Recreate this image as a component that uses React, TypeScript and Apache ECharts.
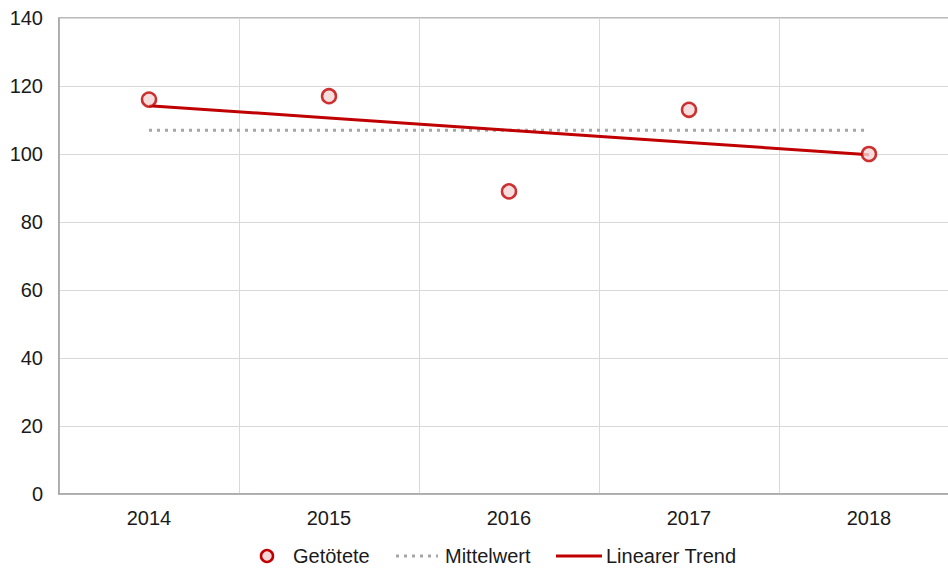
import React, { useEffect, useRef } from "react";
import * as echarts from "echarts";

const years = ["2014", "2015", "2016", "2017", "2018"];
const killed = [116, 117, 89, 113, 100];
const meanValues = [107, 107, 107, 107, 107];
const trendValues = [114.2, 110.6, 107, 103.4, 99.8];
const yTicks = { min: 0, max: 140, interval: 20 };
const legendNames = ["Getötete", "Mittelwert", "Linearer Trend"];

const FONT = "'Liberation Sans', Arial, sans-serif";
const RED = "#c00000";
const GRAY = "#a6a6a6";
const TEXT = "#1a1a1a";

export default function App() {
  const ref = useRef<HTMLDivElement>(null);
  useEffect(() => {
    if (!ref.current) return;
    const chart = echarts.init(ref.current, undefined, { renderer: "svg" });
    const ly = 556;
    const legendText = (x: number, t: string) => ({
      type: "text",
      x,
      y: ly,
      style: { text: t, fontSize: 20, fontFamily: FONT, fill: TEXT, textVerticalAlign: "middle", verticalAlign: "middle" },
    });
    chart.setOption({
      animation: false,
      textStyle: { fontFamily: FONT },
      grid: {
        left: 59,
        top: 18,
        right: 0,
        bottom: 76,
        show: true,
        borderColor: GRAY,
        borderWidth: 1.5,
      },
      legend: { show: false, data: legendNames },
      graphic: [
        {
          type: "circle",
          shape: { cx: 267, cy: ly, r: 6 },
          style: { fill: "#f4d6d6", stroke: RED, lineWidth: 2.5 },
        },
        legendText(293, legendNames[0]),
        {
          type: "line",
          shape: { x1: 396, y1: ly, x2: 438, y2: ly },
          style: { stroke: GRAY, lineWidth: 3, lineDash: [3, 5] },
        },
        legendText(445, legendNames[1]),
        {
          type: "line",
          shape: { x1: 556, y1: ly, x2: 602, y2: ly },
          style: { stroke: RED, lineWidth: 3 },
        },
        legendText(606, legendNames[2]),
      ],
      xAxis: {
        type: "category",
        data: years,
        boundaryGap: true,
        axisLine: { show: true, lineStyle: { color: GRAY, width: 1.5 } },
        axisTick: { show: false },
        axisLabel: { fontSize: 20, color: TEXT, margin: 14, fontFamily: FONT },
        splitLine: { show: true, interval: 0, lineStyle: { color: "#d9d9d9", width: 1 } },
      },
      yAxis: {
        type: "value",
        min: yTicks.min,
        max: yTicks.max,
        interval: yTicks.interval,
        axisLine: { show: true, lineStyle: { color: GRAY, width: 1.5 } },
        axisTick: { show: false },
        axisLabel: { fontSize: 20, color: TEXT, margin: 16, fontFamily: FONT },
        splitLine: { show: true, lineStyle: { color: "#d9d9d9", width: 1 } },
      },
      series: [
        {
          name: legendNames[1],
          type: "line",
          data: meanValues,
          symbol: "none",
          z: 2,
          lineStyle: { color: GRAY, width: 3, type: [3, 5] },
          itemStyle: { color: GRAY },
        },
        {
          name: legendNames[2],
          type: "line",
          data: trendValues,
          symbol: "none",
          z: 3,
          lineStyle: { color: RED, width: 3 },
          itemStyle: { color: RED },
        },
        {
          name: legendNames[0],
          type: "scatter",
          data: killed,
          symbol: "circle",
          symbolSize: 14,
          z: 5,
          itemStyle: { color: "#f4d6d6", borderColor: RED, borderWidth: 2.5 },
        },
      ],
    });
    return () => chart.dispose();
  }, []);
  return (
    <div style={{ position: "fixed", left: 0, top: 0, width: 948, height: 570, overflow: "hidden", background: "#fff" }}>
      <div ref={ref} style={{ width: 959, height: 570 }} />
    </div>
  );
}
